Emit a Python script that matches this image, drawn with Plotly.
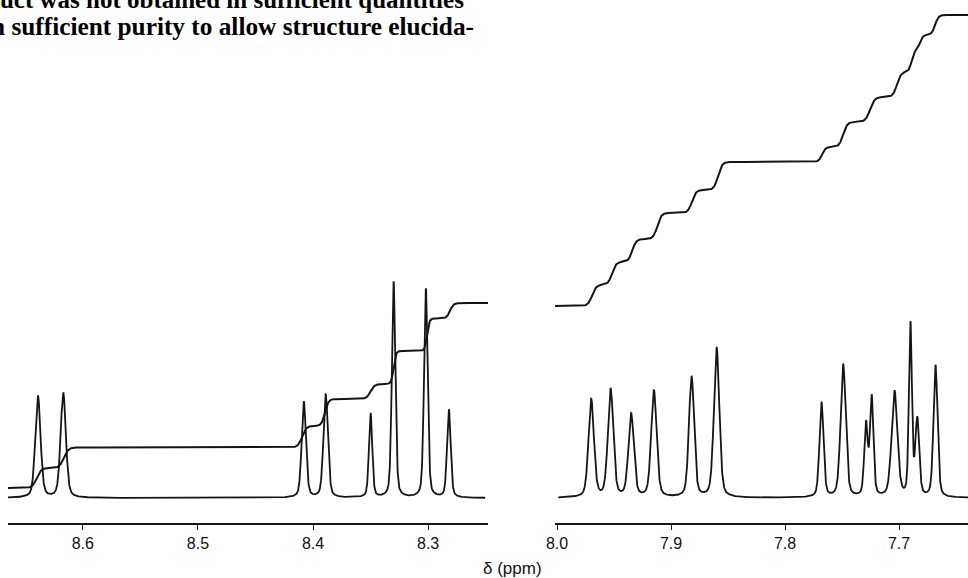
import numpy as np
import plotly.graph_objects as go

# ---------------- data ----------------
# Left panel (8.67 - 8.25 ppm): peak list
left_peak_ppm = [8.639, 8.617, 8.408, 8.389, 8.350, 8.330, 8.302, 8.282]
left_peak_height = [102, 105, 96, 103, 84, 216, 209, 88]
left_peak_fwhm = [0.0054, 0.0054, 0.0044, 0.0046, 0.0034, 0.0036, 0.0037, 0.0037]

# Right panel (8.00 - 7.64 ppm): peak list
right_peak_ppm = [7.970, 7.953, 7.935, 7.915, 7.882, 7.860,
                  7.768, 7.749, 7.729, 7.724, 7.704, 7.690, 7.684, 7.668]
right_peak_height = [98, 108, 83, 107, 121, 150,
                     95, 133, 72, 99, 106, 172, 76, 132]
right_peak_fwhm = [0.0056, 0.0056, 0.0056, 0.0056, 0.0053, 0.0056,
                   0.0042, 0.0053, 0.0036, 0.0036, 0.0060, 0.0031, 0.0040, 0.0042]

spectrum_baseline = 25

# Integral curves: start level, step centres (ppm), step sizes, step widths
left_int_start = 35
left_int_ppm = [8.640, 8.6165, 8.4096, 8.3896, 8.350, 8.330, 8.301, 8.281]
left_int_step = [20, 20.5, 21.5, 27, 15, 33, 32.5, 15.5]
left_int_width = [0.0038, 0.0038, 0.0035, 0.0030, 0.0035, 0.0020, 0.0020, 0.0030]

right_int_start = 217
right_int_ppm = [7.9693, 7.9518, 7.934, 7.912, 7.8816, 7.8588,
                 7.7675, 7.749, 7.7254, 7.7018, 7.689, 7.6816, 7.6684]
right_int_step = [21, 23, 23, 26, 23, 28, 15, 25, 25, 25, 22, 15, 20]
right_int_width = [0.0035, 0.0035, 0.0035, 0.0035, 0.0035, 0.0035,
                   0.0030, 0.0035, 0.0040, 0.0035, 0.0025, 0.0025, 0.0030]

left_ticks = [8.6, 8.5, 8.4, 8.3]
right_ticks = [8.0, 7.9, 7.8, 7.7]
axis_title = "δ (ppm)"
text_line1 = "product was not obtained in sufficient quantities"
text_line2 = "in sufficient purity to allow structure elucida-"

left_range = [8.665, 8.248]
right_range = [8.00175, 7.6395]


# ---------------- line shapes ----------------
def spectrum(x, centres, heights, fwhms, eta=0.35):
    y = np.full_like(x, float(spectrum_baseline))
    for c, h, w in zip(centres, heights, fwhms):
        d = (x - c) / (w / 2.0)
        g = np.exp(-np.log(2) * d ** 2)
        lor = 1.0 / (1.0 + d ** 2)
        y += h * ((1 - eta) * g + eta * lor)
    return y


def integral(x, start, centres, steps, widths):
    y = np.full_like(x, float(start))
    for c, s, w in zip(centres, steps, widths):
        y += s * 0.5 * (1.0 + np.tanh((c - x) / w))
    return y


xl_spec = np.linspace(8.666, 8.2505, 3000)
xr_spec = np.linspace(7.9989, 7.6395, 3000)
xl_int = np.linspace(8.666, 8.248, 2000)
xr_int = np.linspace(8.0017, 7.6395, 2000)

line_col = "#151515"

fig = go.Figure()
fig.add_trace(go.Scatter(x=xl_spec, y=spectrum(xl_spec, left_peak_ppm, left_peak_height, left_peak_fwhm),
                         mode="lines", line=dict(color=line_col, width=1.8), xaxis="x", yaxis="y",
                         showlegend=False, hoverinfo="skip"))
fig.add_trace(go.Scatter(x=xl_int, y=integral(xl_int, left_int_start, left_int_ppm, left_int_step, left_int_width),
                         mode="lines", line=dict(color=line_col, width=2.0), xaxis="x", yaxis="y",
                         showlegend=False, hoverinfo="skip"))
fig.add_trace(go.Scatter(x=xr_spec, y=spectrum(xr_spec, right_peak_ppm, right_peak_height, right_peak_fwhm),
                         mode="lines", line=dict(color=line_col, width=1.8), xaxis="x2", yaxis="y2",
                         showlegend=False, hoverinfo="skip"))
fig.add_trace(go.Scatter(x=xr_int, y=integral(xr_int, right_int_start, right_int_ppm, right_int_step, right_int_width),
                         mode="lines", line=dict(color=line_col, width=2.0), xaxis="x2", yaxis="y2",
                         showlegend=False, hoverinfo="skip"))

W, H, B = 968, 578, 55
axis_common = dict(showline=True, linecolor=line_col, linewidth=1.8, ticks="outside", ticklen=5,
                   tickwidth=1.4, tickcolor=line_col, showgrid=False, zeroline=False, automargin=False,
                   tickfont=dict(family="Liberation Sans", size=16, color="#111"))

fig.update_layout(
    width=W, height=H,
    margin=dict(l=0, r=0, t=0, b=B, pad=0, autoexpand=False),
    paper_bgcolor="white", plot_bgcolor="white",
    xaxis=dict(domain=[8 / W, 488 / W], range=left_range, tickvals=left_ticks,
               ticktext=[f"{v:.1f}" for v in left_ticks], anchor="y", **axis_common),
    xaxis2=dict(domain=[555 / W, 1.0], range=right_range, tickvals=right_ticks,
                ticktext=[f"{v:.1f}" for v in right_ticks], anchor="y2", **axis_common),
    yaxis=dict(range=[0, H - B], visible=False, domain=[0, 1], automargin=False),
    yaxis2=dict(range=[0, H - B], visible=False, domain=[0, 1], anchor="x2", automargin=False),
)

ph = H - B


def py(p):
    return 1 - p / ph


fig.add_annotation(text=axis_title, x=512 / W, y=py(568), xref="paper", yref="paper",
                   xanchor="center", yanchor="middle", showarrow=False,
                   font=dict(family="Liberation Sans", size=17, color="#111"))
fig.add_annotation(text="<b>" + text_line1 + "</b>", x=466 / W, y=py(-1), xref="paper", yref="paper",
                   xanchor="right", yanchor="middle", showarrow=False,
                   font=dict(family="Liberation Serif", size=25, color="#000"))
fig.add_annotation(text="<b>" + text_line2 + "</b>", x=476 / W, y=py(26), xref="paper", yref="paper",
                   xanchor="right", yanchor="middle", showarrow=False,
                   font=dict(family="Liberation Serif", size=25.3, color="#000"))

fig.write_html("out.html")
